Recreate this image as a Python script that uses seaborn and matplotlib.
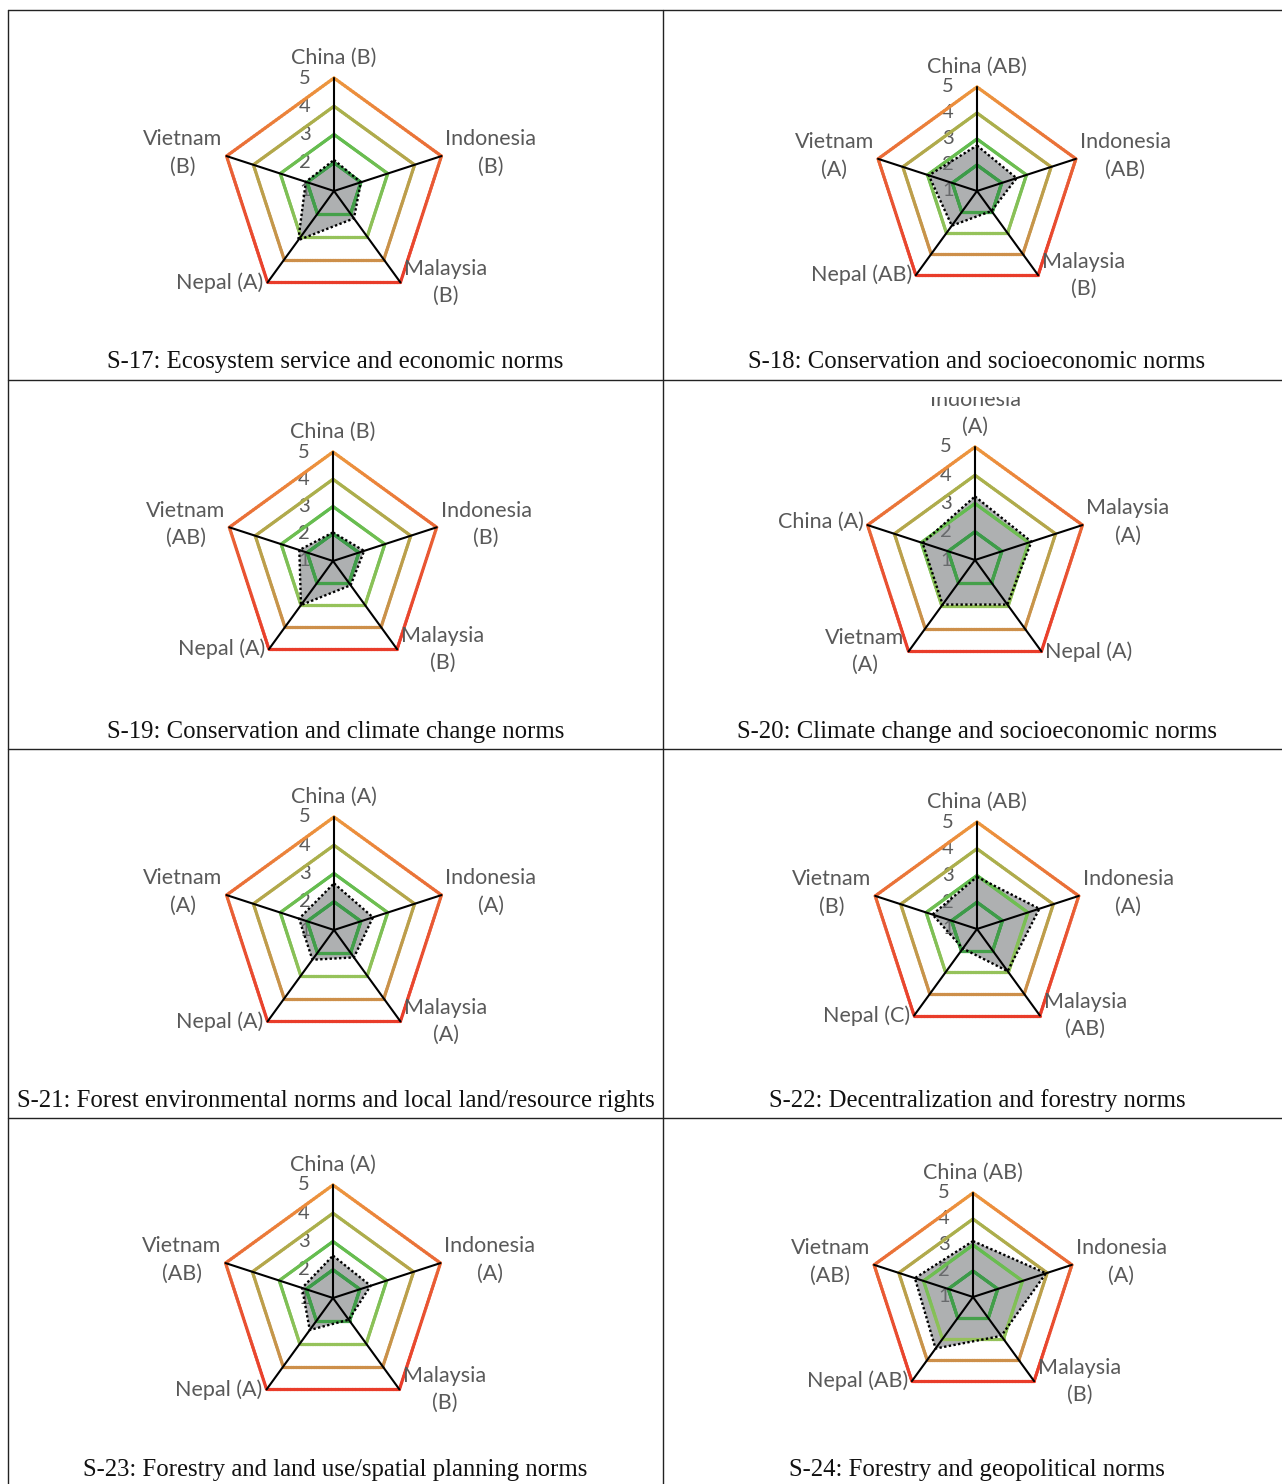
import numpy as np
import pandas as pd
import matplotlib
matplotlib.use("Agg")
import matplotlib.pyplot as plt
from matplotlib.collections import LineCollection
from matplotlib.colors import LinearSegmentedColormap
from matplotlib.lines import Line2D
import seaborn as sns

sns.set_theme(style="white")
plt.rcParams["font.family"] = ["Lato", "DejaVu Sans"]

# scores (1-5), listed clockwise starting from the top spoke
s17_labels = ["China (B)", "Indonesia\n(B)", "Malaysia\n(B)", "Nepal (A)", "Vietnam\n(B)"]
s17_scores = [2.1, 2.0, 2.2, 3.15, 2.05]

s18_labels = ["China (AB)", "Indonesia\n(AB)", "Malaysia\n(B)", "Nepal (AB)", "Vietnam\n(A)"]
s18_scores = [2.75, 2.6, 1.95, 2.65, 2.95]

s19_labels = ["China (B)", "Indonesia\n(B)", "Malaysia\n(B)", "Nepal (A)", "Vietnam\n(AB)"]
s19_scores = [2.05, 2.2, 2.1, 3.0, 2.3]

s20_labels = ["Indonesia\n(A)", "Malaysia\n(A)", "Nepal (A)", "Vietnam\n(A)", "China (A)"]
s20_scores = [3.25, 3.1, 2.95, 2.95, 2.95]

s21_labels = ["China (A)", "Indonesia\n(A)", "Malaysia\n(A)", "Nepal (A)", "Vietnam\n(A)"]
s21_scores = [2.65, 2.45, 2.2, 2.3, 2.3]

s22_labels = ["China (AB)", "Indonesia\n(A)", "Malaysia\n(AB)", "Nepal (C)", "Vietnam\n(B)"]
s22_scores = [2.95, 3.45, 2.95, 1.9, 2.75]

s23_labels = ["China (A)", "Indonesia\n(A)", "Malaysia\n(B)", "Nepal (A)", "Vietnam\n(AB)"]
s23_scores = [2.5, 2.4, 1.95, 2.4, 2.15]

s24_labels = ["China (AB)", "Indonesia\n(A)", "Malaysia\n(B)", "Nepal (AB)", "Vietnam\n(AB)"]
s24_scores = [3.15, 3.95, 2.85, 3.45, 3.35]

captions = [
    "S-17: Ecosystem service and economic norms",
    "S-18: Conservation and socioeconomic norms",
    "S-19: Conservation and climate change norms",
    "S-20: Climate change and socioeconomic norms",
    "S-21: Forest environmental norms and local land/resource rights",
    "S-22: Decentralization and forestry norms",
    "S-23: Forestry and land use/spatial planning norms",
    "S-24: Forestry and geopolitical norms",
]
tick_levels = [1, 2, 3, 4, 5]

charts = [
    (s17_labels, s17_scores), (s18_labels, s18_scores),
    (s19_labels, s19_scores), (s20_labels, s20_scores),
    (s21_labels, s21_scores), (s22_labels, s22_scores),
    (s23_labels, s23_scores), (s24_labels, s24_scores),
]

# table layout in pixels
W, H = 1282, 1484
col_x = [8, 663, 1291]
row_y = [10, 380, 749, 1118, 1488]
centers = [(334, 191), (977, 191), (333, 561), (975, 560),
           (334, 930), (977, 929), (333, 1298), (973, 1297)]
radius = [113, 104, 109, 113, 113, 107, 113, 104]
clip_top = {3: 397}

ring_colors = {
    2: ["#3b9a49", "#45a04a"],
    3: ["#5fbc4e", "#95c25a"],
    4: ["#a8b24c", "#cd8f4a"],
    5: ["#ec983e", "#e95a34", "#e93c2a"],
}
text_grey = "#595959"

angles = np.pi / 2 - np.arange(5) * 2 * np.pi / 5


def draw_ring(ax, level):
    r = level - 1
    vx = np.append(r * np.cos(angles), r * np.cos(angles[0]))
    vy = np.append(r * np.sin(angles), r * np.sin(angles[0]))
    t = np.linspace(0, 1, 40)
    pts = np.vstack([np.column_stack([vx[i] + (vx[i + 1] - vx[i]) * t,
                                      vy[i] + (vy[i + 1] - vy[i]) * t]) for i in range(5)])
    segs = np.stack([pts[:-1], pts[1:]], axis=1)
    ymid = segs[:, :, 1].mean(axis=1)
    top, bot = r, -r * np.cos(np.pi / 5)
    frac = np.clip((top - ymid) / (top - bot), 0, 1)
    cmap = LinearSegmentedColormap.from_list("ring%d" % level, ring_colors[level])
    lc = LineCollection(segs, colors=cmap(frac), linewidths=2.3, capstyle="round", zorder=3)
    ax.add_collection(lc)


fig = plt.figure(figsize=(W / 100, H / 100), dpi=100)

for k, (labels, scores) in enumerate(charts):
    col, row = k % 2, k // 2
    x0, x1 = col_x[col] + 1, col_x[col + 1] - 1
    y0 = clip_top.get(k, row_y[row] + 2)
    y1 = row_y[row] + 335
    cx, cy = centers[k]
    s = radius[k] / 4.0
    ax = fig.add_axes([x0 / W, 1 - y1 / H, (x1 - x0) / W, (y1 - y0) / H])
    ax.set_xlim((x0 - cx) / s, (x1 - cx) / s)
    ax.set_ylim((cy - y1) / s, (cy - y0) / s)
    ax.axis("off")

    r = np.array(scores) - 1
    px = r * np.cos(angles)
    py = r * np.sin(angles)
    ax.fill(px, py, color="#74777a", alpha=0.58, lw=0, zorder=2)

    for lev in [2, 3, 4, 5]:
        draw_ring(ax, lev)

    for a in angles:
        ax.plot([0, 4 * np.cos(a)], [0, 4 * np.sin(a)], color="black", lw=1.5, zorder=4)

    poly = pd.DataFrame({"x": np.append(px, px[0]), "y": np.append(py, py[0])})
    sns.lineplot(data=poly, x="x", y="y", sort=False, estimator=None, ax=ax,
                 color="black", lw=1.7, linestyle=(0, (1, 1)), zorder=5)

    for lev in tick_levels:
        ax.text(-23 / s, lev - 1, str(lev), ha="right", va="center",
                fontsize=14.5, color=text_grey, zorder=1)

    for i, lab in enumerate(labels):
        vx, vy = 4 * np.cos(angles[i]), 4 * np.sin(angles[i])
        if i == 0:
            t = ax.text(vx, vy + 10 / s, lab, ha="center", va="bottom", multialignment="center",
                        fontsize=15.5, color=text_grey, linespacing=1.45, zorder=6)
        else:
            side = 1 if np.cos(angles[i]) > 0 else -1
            dy = 3 / s if vy > 0 else 0
            t = ax.text(vx + side * 4 / s, vy + dy, lab, ha="left" if side > 0 else "right",
                        va="center", multialignment="center", fontsize=15.5, color=text_grey,
                        linespacing=1.45, zorder=6)
        t.set_clip_box(ax.bbox)
        t.set_clip_on(True)

    ccx = (col_x[col] + col_x[col + 1]) / 2
    fig.text(ccx / W, 1 - (row_y[row] + 352) / H, captions[k], ha="center", va="center",
             family="Liberation Serif", fontsize=17.8, color="#111111")

# table rules
for x in col_x[:2]:
    fig.add_artist(Line2D([x / W, x / W], [1 - row_y[0] / H, 0], color="#222222", lw=1.0))
for y in row_y[:4]:
    fig.add_artist(Line2D([col_x[0] / W, 1], [1 - y / H, 1 - y / H], color="#222222", lw=1.0))

fig.savefig("out.png", dpi=100)
